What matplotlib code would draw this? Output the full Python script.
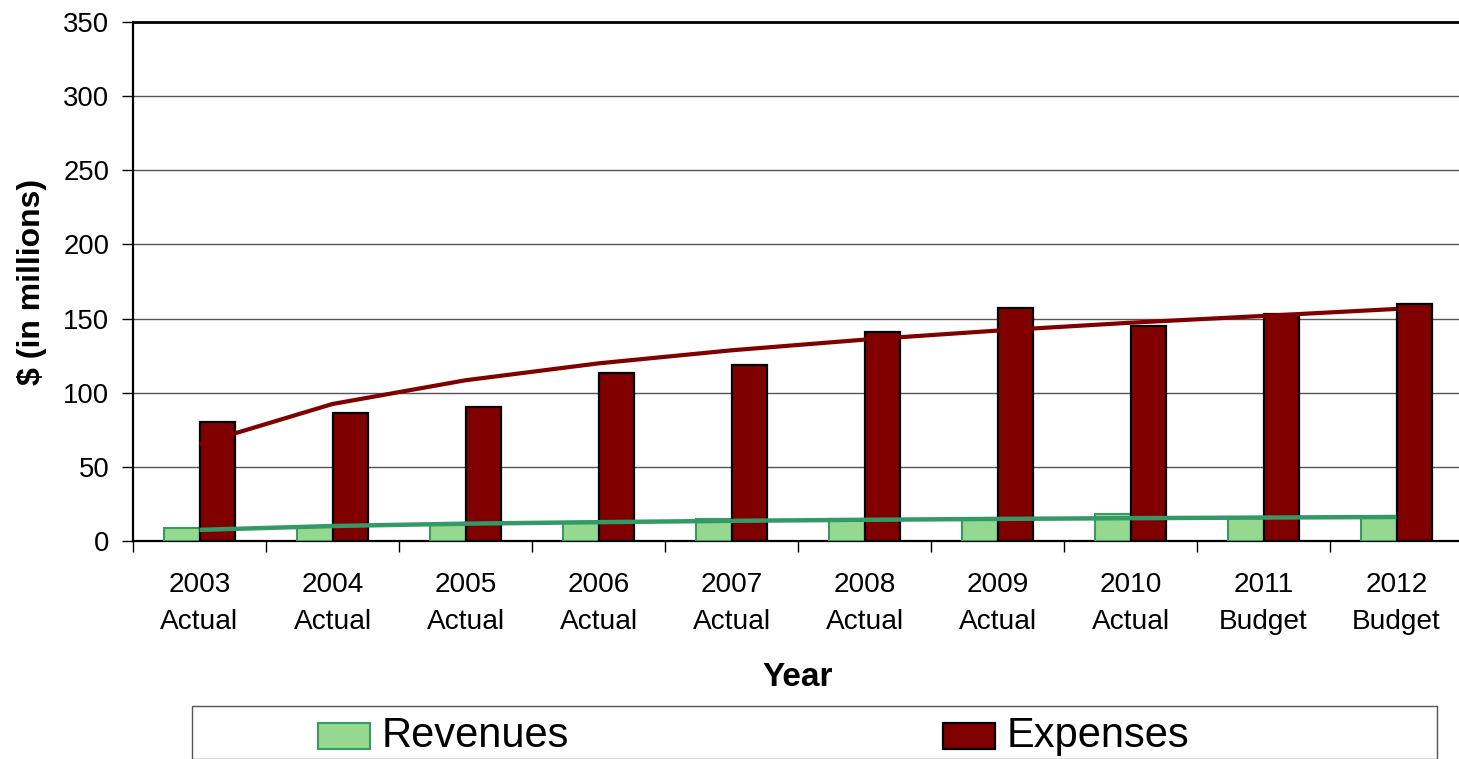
import matplotlib
matplotlib.use("Agg")
import matplotlib.pyplot as plt
from matplotlib.patches import Rectangle
import numpy as np

plt.rcParams['font.family'] = ['Liberation Sans', 'DejaVu Sans']

categories = ["2003\nActual", "2004\nActual", "2005\nActual", "2006\nActual", "2007\nActual",
              "2008\nActual", "2009\nActual", "2010\nActual", "2011\nBudget", "2012\nBudget"]
revenues = [9, 9.5, 11, 13, 15, 14.5, 14.5, 18, 16.5, 16.5]
expenses = [80, 86, 90.5, 113, 118.7, 140.7, 157, 145.2, 152.8, 160]
revenue_trend = [7.5, 10.1, 11.7, 12.7, 13.6, 14.3, 14.9, 15.4, 15.8, 16.2]
expense_trend = [65.4, 92.4, 108.4, 119.8, 128.6, 135.8, 141.9, 147.2, 151.8, 156.5]
yticks = [0, 50, 100, 150, 200, 250, 300, 350]

W, H = 1459, 759
fig = plt.figure(figsize=(W / 100, H / 100), dpi=100)
ax = fig.add_axes([133 / W, 1 - 541 / H, (1463 - 133) / W, (541 - 22) / H])

x = np.arange(len(categories))
bw = 0.27
rev_color = "#95d990"
rev_edge = "#3a9a62"
exp_color = "#800000"

ax.bar(x - 0.135, revenues, width=bw, color=rev_color, edgecolor=rev_edge, linewidth=1.5, zorder=3)
ax.bar(x + 0.135, expenses, width=bw, color=exp_color, edgecolor="black", linewidth=1.6, zorder=3)
ax.plot(x, expense_trend, color=exp_color, linewidth=3.0, zorder=4, solid_capstyle='butt')
ax.plot(x, revenue_trend, color="#339966", linewidth=3.2, zorder=4, solid_capstyle='butt')

ax.set_xlim(-0.5, len(categories) - 0.5)
ax.set_ylim(0, 350)
ax.set_yticks(yticks)
ax.yaxis.grid(True, color="#555555", linewidth=1.0, zorder=0)
ax.set_axisbelow(True)

ax.set_xticks(x)
ax.set_xticklabels(categories, fontsize=20.2, linespacing=1.55)
ax.set_xticks(np.arange(len(categories) + 1) - 0.5, minor=True)
ax.tick_params(axis='x', which='major', length=0, pad=22)
ax.tick_params(axis='x', which='minor', length=8, width=1.0, direction='out')
ax.tick_params(axis='y', which='major', length=8, width=1.0, direction='out', pad=9, labelsize=19.8)

for s in ["left", "bottom"]:
    ax.spines[s].set_linewidth(1.6)
    ax.spines[s].set_color("black")
ax.spines["top"].set_linewidth(2.0)
ax.spines["top"].set_color("black")
ax.spines["right"].set_visible(False)

ax.set_ylabel("$ (in millions)", fontsize=23, fontweight='bold', labelpad=12)
ax.set_xlabel("Year", fontsize=24, fontweight='bold', labelpad=20)

# legend box
fig.patches.append(Rectangle((192 / W, 0), (1437 - 192) / W, (759 - 706) / H, transform=fig.transFigure,
                             facecolor="white", edgecolor="#555555", linewidth=1.0))
fig.patches.append(Rectangle((318 / W, 1 - 749 / H), 52 / W, 26 / H, transform=fig.transFigure,
                             facecolor=rev_color, edgecolor=rev_edge, linewidth=1.5))
fig.patches.append(Rectangle((943 / W, 1 - 749 / H), 52 / W, 26 / H, transform=fig.transFigure,
                             facecolor=exp_color, edgecolor="black", linewidth=1.6))
fig.text(382 / W, 1 - 736 / H, "Revenues", fontsize=30, va='center', ha='left')
fig.text(1007 / W, 1 - 736 / H, "Expenses", fontsize=30, va='center', ha='left')

fig.savefig("out.png", dpi=100)
